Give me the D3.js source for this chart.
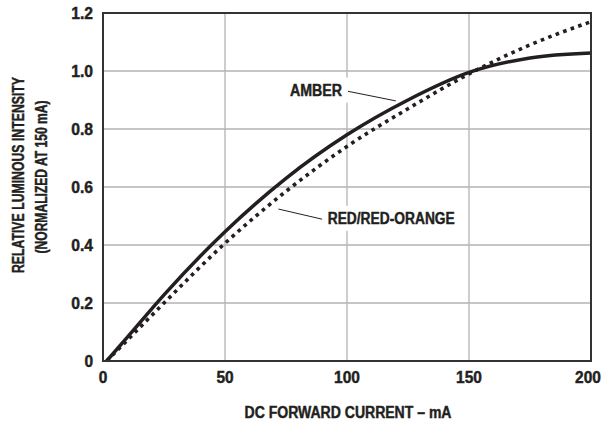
<!DOCTYPE html>
<html>
<head>
<meta charset="utf-8">
<script src="https://cdn.jsdelivr.net/npm/d3@7"></script>
<style>
    html, body { margin: 0; padding: 0; background: #fff; }
    svg text { font-family: "Liberation Sans", Arial, sans-serif; font-weight: bold; fill: #231f20; stroke: #231f20; stroke-width: 0.45px; }
</style>
</head>
<body>
<div id="chart"></div>
<script>
// values
const current = [1.5, 10, 25, 50, 75, 100, 125, 150, 175, 200];
const amber = [0, 0.082, 0.228, 0.446, 0.63, 0.78, 0.90, 0.995, 1.045, 1.062];
const redOrange = [0, 0.072, 0.20, 0.406, 0.585, 0.74, 0.87, 0.99, 1.09, 1.17];
const xTicks = [0, 50, 100, 150, 200];
const yTicks = [0, 0.2, 0.4, 0.6, 0.8, 1.0, 1.2];
const yTickLabels = ['0', '0.2', '0.4', '0.6', '0.8', '1.0', '1.2'];

const width = 605, height = 427;
const margin = { top: 13, right: 14, bottom: 66, left: 103 };
const ink = '#231f20';

const svg = d3.select('#chart').append('svg')
    .attr('width', width)
    .attr('height', height);

const x = d3.scaleLinear().domain([0, 200]).range([margin.left, width - margin.right]);
const y = d3.scaleLinear().domain([0, 1.2]).range([height - margin.bottom, margin.top]);

// squeeze wide bold glyphs into the condensed widths of the original
const fitWidth = s => s.length * 8.6 - (s.includes('.') ? 4 : 0);

// grid
svg.append('g')
    .selectAll('line')
    .data(xTicks.slice(1, -1))
    .enter().append('line')
    .attr('x1', d => x(d)).attr('x2', d => x(d))
    .attr('y1', y(0)).attr('y2', y(1.2))
    .attr('stroke', '#b3b3b3').attr('stroke-width', 1.3);

svg.append('g')
    .selectAll('line')
    .data(yTicks.slice(1, -1))
    .enter().append('line')
    .attr('x1', x(0)).attr('x2', x(200))
    .attr('y1', d => y(d)).attr('y2', d => y(d))
    .attr('stroke', '#b3b3b3').attr('stroke-width', 1.3);

// label boxes that hide the grid behind the callouts
const callouts = [
    { text: 'AMBER', at: [76.6, 0.915], lead: [[100.4, 0.93], [120, 0.897]], len: 52 },
    { text: 'RED/RED-ORANGE', at: [92.1, 0.473], lead: [[71.9, 0.524], [89.8, 0.489]], len: 127 }
];
const boxLayer = svg.append('g');

// curves
const line = d3.line()
    .x((d, i) => x(current[i]))
    .y(d => y(d))
    .curve(d3.curveMonotoneX);

svg.append('path')
    .datum(redOrange)
    .attr('d', line)
    .attr('fill', 'none')
    .attr('stroke', ink)
    .attr('stroke-width', 3.6)
    .attr('stroke-dasharray', '3.6 4.4');

svg.append('path')
    .datum(amber)
    .attr('d', line)
    .attr('fill', 'none')
    .attr('stroke', ink)
    .attr('stroke-width', 3.5);

// frame
svg.append('rect')
    .attr('x', x(0)).attr('y', y(1.2))
    .attr('width', x(200) - x(0)).attr('height', y(0) - y(1.2))
    .attr('fill', 'none').attr('stroke', '#333').attr('stroke-width', 2);

// tick labels
svg.append('g')
    .selectAll('text')
    .data(xTicks)
    .enter().append('text')
    .attr('x', d => d === 200 ? x(d) - 3 : x(d))
    .attr('y', y(0) + 22)
    .attr('text-anchor', 'middle')
    .attr('font-size', 16.5)
    .attr('textLength', d => fitWidth(String(d)))
    .attr('lengthAdjust', 'spacingAndGlyphs')
    .text(d => d);

svg.append('g')
    .selectAll('text')
    .data(yTicks)
    .enter().append('text')
    .attr('x', x(0) - 10)
    .attr('y', d => y(d) + 6)
    .attr('text-anchor', 'end')
    .attr('font-size', 16.5)
    .attr('textLength', (d, i) => fitWidth(yTickLabels[i]))
    .attr('lengthAdjust', 'spacingAndGlyphs')
    .text((d, i) => yTickLabels[i]);

// axis titles
svg.append('text')
    .attr('x', 348)
    .attr('y', 418)
    .attr('text-anchor', 'middle')
    .attr('font-size', 16)
    .attr('textLength', 207)
    .attr('lengthAdjust', 'spacingAndGlyphs')
    .text('DC FORWARD CURRENT – mA');

svg.append('text')
    .attr('transform', 'translate(24,175) rotate(-90)')
    .attr('text-anchor', 'middle')
    .attr('font-size', 16)
    .attr('textLength', 196)
    .attr('lengthAdjust', 'spacingAndGlyphs')
    .text('RELATIVE LUMINOUS INTENSITY');

svg.append('text')
    .attr('transform', 'translate(47,177) rotate(-90)')
    .attr('text-anchor', 'middle')
    .attr('font-size', 16)
    .attr('textLength', 153)
    .attr('lengthAdjust', 'spacingAndGlyphs')
    .text('(NORMALIZED AT 150 mA)');

// callouts
callouts.forEach(c => {
    const t = svg.append('text')
        .attr('x', x(c.at[0]))
        .attr('y', y(c.at[1]))
        .attr('font-size', 16)
        .attr('textLength', c.len)
        .attr('lengthAdjust', 'spacingAndGlyphs')
        .text(c.text);
    const bb = t.node().getBBox();
    boxLayer.append('rect')
        .attr('x', bb.x - 5).attr('y', bb.y - 4)
        .attr('width', bb.width + 17).attr('height', bb.height + 8)
        .attr('fill', '#fff');
    svg.append('line')
        .attr('x1', x(c.lead[0][0])).attr('y1', y(c.lead[0][1]))
        .attr('x2', x(c.lead[1][0])).attr('y2', y(c.lead[1][1]))
        .attr('stroke', ink).attr('stroke-width', 1);
});
</script>
</body>
</html>
